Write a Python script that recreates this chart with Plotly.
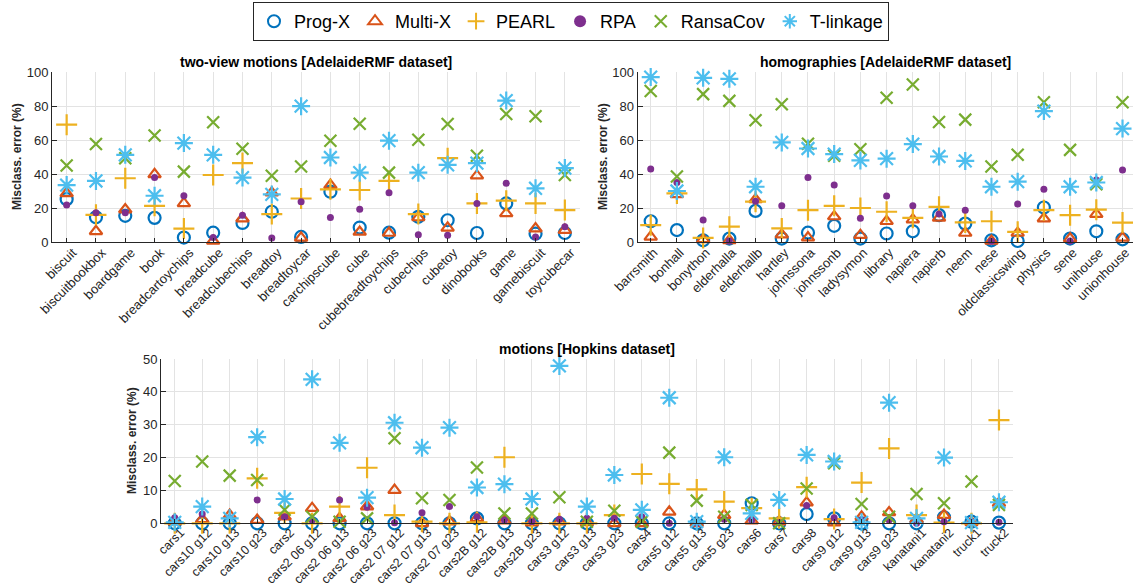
import plotly.graph_objects as go

# ---------------- two-view motions [AdelaideRMF] ----------------
tv_cats = ["biscuit", "biscuitbookbox", "boardgame", "book", "breadcartoychips", "breadcube",
           "breadcubechips", "breadtoy", "breadtoycar", "carchipscube", "cube", "cubebreadtoychips",
           "cubechips", "cubetoy", "dinobooks", "game", "gamebiscuit", "toycubecar"]
tv_progx = [25.2, 14.5, 15.4, 14.2, 2.6, 5.5, 11.2, 17.8, 3.0, 29.6, 8.5, 5.5, 14.8, 12.8, 5.3, 22.7, 4.9, 5.3]
tv_multix = [28.6, 6.3, 19.1, 39.8, 22.7, 0.6, 13.8, 29.0, 2.4, 33.5, 5.9, 5.3, 14.4, 8.3, 39.0, 16.8, 7.9, 7.0]
tv_pearl = [69.0, 16.0, 37.5, 21.3, 7.9, 39.4, 46.4, 16.4, 25.6, 31.0, 30.6, 35.9, 16.4, 49.3, 22.7, 24.3, 22.7, 18.8]
tv_rpa = [21.7, 17.2, 17.2, 37.9, 27.2, 2.6, 15.8, 2.4, 23.7, 14.4, 19.3, 29.0, 4.3, 3.9, 22.7, 34.5, 3.0, 9.0]
tv_ransacov = [45.0, 57.6, 49.3, 62.7, 41.4, 70.4, 54.8, 39.0, 44.4, 59.6, 69.6, 40.8, 60.2, 69.4, 50.7, 75.3, 74.0, 39.4]
tv_tlinkage = [33.5, 35.9, 51.3, 27.2, 58.2, 51.3, 37.9, 28.0, 79.9, 49.7, 40.8, 59.6, 40.8, 45.4, 46.4, 83.2, 31.6, 43.5]

# ---------------- homographies [AdelaideRMF] ----------------
hg_cats = ["barrsmith", "bonhall", "bonython", "elderhalla", "elderhallb", "hartley", "johnssona",
           "johnssonb", "ladysymon", "library", "napiera", "napierb", "neem", "nese",
           "oldclassicswing", "physics", "sene", "unihouse", "unionhouse"]
hg_progx = [12.2, 7.0, 1.0, 2.0, 18.3, 2.0, 5.5, 9.5, 2.0, 5.0, 6.3, 15.8, 10.8, 1.0, 0.6, 20.3, 2.0, 6.3, 1.6]
hg_multix = [3.0, 28.0, 1.5, 1.0, 25.0, 4.3, 2.6, 15.0, 4.0, 12.2, 13.2, 14.2, 5.3, 0.6, 5.3, 13.8, 2.0, 16.4, 2.4]
hg_pearl = [9.9, 28.6, 2.4, 9.0, 23.7, 8.0, 18.7, 21.3, 20.0, 17.8, 14.2, 20.7, 11.5, 12.2, 6.0, 18.7, 15.8, 19.0, 11.4]
hg_rpa = [43.0, 35.0, 13.0, 0.6, 24.0, 21.3, 38.0, 33.5, 14.0, 27.0, 21.3, 16.4, 18.7, 0.5, 22.3, 31.0, 0.6, 36.5, 42.4]
hg_ransacov = [88.8, 38.5, 87.0, 83.0, 71.6, 81.0, 57.8, 50.7, 54.6, 84.8, 92.7, 70.6, 72.0, 44.4, 51.3, 82.2, 54.2, 34.0, 82.2]
hg_tlinkage = [97.0, 30.0, 96.6, 96.0, 32.5, 58.6, 55.0, 51.7, 48.0, 49.0, 57.6, 50.3, 47.7, 32.5, 35.5, 77.0, 32.5, 35.0, 66.7]

# ---------------- motions [Hopkins] ----------------
hp_cats = ["cars1", "cars10 g12", "cars10 g13", "cars10 g23", "cars2", "cars2 06 g12", "cars2 06 g13",
           "cars2 06 g23", "cars2 07 g12", "cars2 07 g13", "cars2 07 g23", "cars2B g12", "cars2B g13",
           "cars2B g23", "cars3 g12", "cars3 g13", "cars3 g23", "cars4", "cars5 g12", "cars5 g13",
           "cars5 g23", "cars6", "cars7", "cars8", "cars9 g12", "cars9 g13", "cars9 g23",
           "kanatani1", "kanatani2", "truck1", "truck2"]
hp_progx = [0, 0, 0, 0, 0, 0, 0, 0, 0, 0, 0, 1.5, 0, 0, 0, 0, 0, 0, 0, 0, 0, 6.1, 0, 2.8, 1.5, 0, 0, 0, 1.8, 0.5, 0.2]
hp_multix = [0.5, 1.2, 2.5, 1.0, 2.0, 4.6, 1.5, 5.1, 10.1, 0, 0.5, 1.5, 0.8, 0.2, 0.5, 0.3, 0, 0, 3.5, 0, 2.5,
             0.8, 0.5, 6.3, 0.2, 2.0, 3.3, 1.2, 2.5, 0.3, 6.1]
hp_pearl = [0, 0, 0, 13.7, 3.2, 0, 5.1, 16.9, 2.5, 0.5, 0, 0.3, 20.1, 0, 0, 0, 2.5, 15.0, 12.0, 10.3, 6.6,
            4.6, 1.5, 11.0, 1.3, 12.4, 22.8, 2.5, 0.2, 0, 31.4]
hp_rpa = [1.7, 2.8, 1.7, 7.1, 2.0, 1.0, 7.1, 4.9, 0.2, 3.2, 5.1, 2.0, 1.0, 0.5, 1.2, 1.5, 1.5, 2.0, 0, 0, 1.2,
          1.0, 0.2, 5.4, 1.7, 1.0, 1.0, 0, 0.5, 0.5, 0.3]
hp_ransacov = [12.9, 18.8, 14.5, 13.2, 4.1, 2.0, 0.5, 1.5, 25.9, 7.6, 7.1, 17.0, 3.0, 3.0, 7.9, 0.5, 3.8, 0.5,
               21.5, 6.9, 2.0, 5.6, 0, 10.6, 18.3, 5.9, 2.0, 8.9, 6.1, 12.7, 5.6]
hp_tlinkage = [0.3, 5.1, 1.5, 26.2, 7.4, 43.8, 24.5, 7.8, 30.6, 23.0, 29.1, 10.9, 11.9, 7.4, 47.9, 5.1, 14.7,
               4.1, 38.2, 0.5, 20.1, 3.0, 7.1, 20.8, 18.8, 0.3, 36.7, 1.5, 20.0, 0.2, 6.4]

methods = ["Prog-X", "Multi-X", "PEARL", "RPA", "RansaCov", "T-linkage"]
styles = {
    "Prog-X":    dict(symbol="circle-open", color="#0072BD", size=12, line=dict(width=2.2, color="#0072BD")),
    "Multi-X":   dict(symbol="triangle-up-open", color="#D95319", size=11, line=dict(width=2.2, color="#D95319")),
    "PEARL":     dict(symbol="cross-thin-open", color="#EDB120", size=15, line=dict(width=2.2, color="#EDB120")),
    "RPA":       dict(symbol="circle", color="#7E2F8E", size=7, line=dict(width=0)),
    "RansaCov":  dict(symbol="x-thin-open", color="#77AC30", size=12, line=dict(width=2.2, color="#77AC30")),
    "T-linkage": dict(symbol="asterisk-open", color="#4DBEEE", size=15, line=dict(width=2.2, color="#4DBEEE")),
}

panels = [
    ("x", "y", tv_cats, [tv_progx, tv_multix, tv_pearl, tv_rpa, tv_ransacov, tv_tlinkage]),
    ("x2", "y2", hg_cats, [hg_progx, hg_multix, hg_pearl, hg_rpa, hg_ransacov, hg_tlinkage]),
    ("x3", "y3", hp_cats, [hp_progx, hp_multix, hp_pearl, hp_rpa, hp_ransacov, hp_tlinkage]),
]

fig = go.Figure()
for p, (xa, ya, cats, series) in enumerate(panels):
    for name, vals in zip(methods, series):
        fig.add_trace(go.Scatter(
            x=list(range(len(cats))), y=vals, mode="markers", name=name,
            marker=styles[name], xaxis=xa, yaxis=ya, cliponaxis=False,
            showlegend=(p == 0),
        ))

W, H = 1133, 588
FONT = "Liberation Sans, Arial, Helvetica, sans-serif"
INK = "#262626"
GRID = "#E3E3E3"


def xaxis_cfg(cats, x0, x1, rng, standoff=-3, shift=6, size=13):
    return dict(domain=[x0 / W, x1 / W], range=rng, tickmode="array",
                tickvals=list(range(len(cats))), ticktext=cats, tickangle=-45,
                tickfont=dict(family=FONT, size=size, color=INK),
                ticklabelshift=shift, ticklabelstandoff=standoff, ticklabeloverflow="allow",
                showgrid=True, gridcolor=GRID, gridwidth=1, zeroline=False,
                showline=True, linecolor=INK, linewidth=1, ticks="inside", ticklen=4,
                tickcolor=INK, automargin=False, fixedrange=True)


def yaxis_cfg(y_top, y_bot, rng, dtick, anchor):
    return dict(domain=[1 - y_bot / H, 1 - y_top / H], range=rng, dtick=dtick, tick0=0,
                tickfont=dict(family=FONT, size=13, color=INK), anchor=anchor,
                showgrid=True, gridcolor=GRID, gridwidth=1, zeroline=False,
                showline=True, linecolor=INK, linewidth=1, ticks="inside", ticklen=5,
                tickcolor=INK, automargin=False, fixedrange=True)


fig.update_layout(
    width=W, height=H, template="none",
    margin=dict(l=0, r=0, t=0, b=0), paper_bgcolor="white", plot_bgcolor="white",
    font=dict(family=FONT, color=INK),
    xaxis=xaxis_cfg(tv_cats, 52, 579.5, [-0.5, 17.5]) | dict(anchor="y"),
    yaxis=yaxis_cfg(72, 242, [0, 100], 20, "x"),
    xaxis2=xaxis_cfg(hg_cats, 637.6, 1133, [-0.5, 18.4], shift=3) | dict(anchor="y2"),
    yaxis2=yaxis_cfg(72, 242, [0, 100], 20, "x2"),
    xaxis3=xaxis_cfg(hp_cats, 161, 1012.7, [-0.5, 30.5], standoff=-4, size=12.5) | dict(anchor="y3"),
    yaxis3=yaxis_cfg(359, 523.3, [0, 50], 10, "x3"),
    legend=dict(orientation="h", x=571 / W, xanchor="center", y=1 - 2 / H, yanchor="top",
                bordercolor=INK, borderwidth=1, bgcolor="white",
                font=dict(family=FONT, size=18, color="#000000"), itemsizing="constant"),
    showlegend=True,
)

titles = [
    ("two-view motions [AdelaideRMF dataset]", (52 + 579.5) / 2, 62),
    ("homographies [AdelaideRMF dataset]", (637.6 + 1133) / 2, 62),
    ("motions [Hopkins dataset]", (161 + 1012.7) / 2, 349),
]
for text, cx, cy in titles:
    fig.add_annotation(text=f"<b>{text}</b>", xref="paper", yref="paper", x=cx / W, y=1 - cy / H,
                       xanchor="center", yanchor="middle", showarrow=False,
                       font=dict(family=FONT, size=14, color="#000000"))

ylabels = [(17, 157), (603, 157), (132, 441)]
for cx, cy in ylabels:
    fig.add_annotation(text="<b>Misclass. error (%)</b>", xref="paper", yref="paper",
                       x=cx / W, y=1 - cy / H, xanchor="center", yanchor="middle",
                       textangle=-90, showarrow=False,
                       font=dict(family=FONT, size=12, color=INK))

fig.write_html("out.html", config={"displayModeBar": False})
